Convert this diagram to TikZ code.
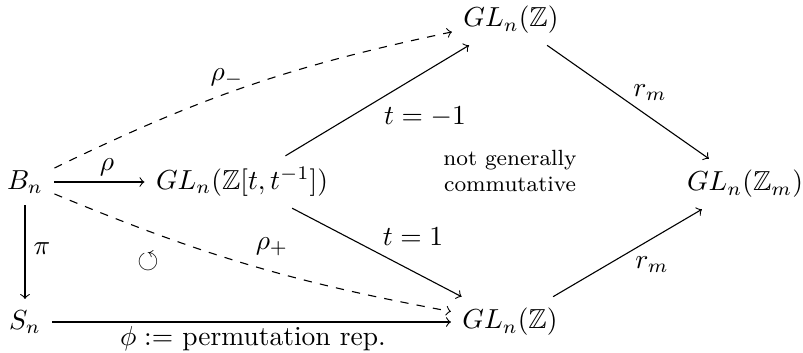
\documentclass[tikz,border=0pt]{standalone}
\usepackage{amssymb}
\begin{document}
\begin{tikzpicture}[x=0.3636pt,y=-0.3636pt,
  obj/.style={inner sep=4pt},
  lab/.style={inner sep=1pt},
  arr/.style={->},
  darr/.style={->,dashed}]
\useasboundingbox (0,0) rectangle (803,352);
% objects
\node[obj] (Bn) at (25,182) {$B_n$};
\node[obj] (L)  at (242,182) {$GL_n(\mathbb{Z}[t,t^{-1}])$};
\node[obj] (Gt) at (511,20) {$GL_n(\mathbb{Z})$};
\node[obj] (Gm) at (745,184) {$GL_n(\mathbb{Z}_m)$};
\node[obj] (Gb) at (510,322) {$GL_n(\mathbb{Z})$};
\node[obj] (Sn) at (25,322) {$S_n$};
% arrows
\draw[arr] (Bn) -- (L);
\draw[arr] (Bn) -- (Sn);
\draw[arr] (Sn) -- (Gb);
\draw[darr] (Bn) to[bend left=7] (Gt);
\draw[darr] (Bn) to[bend right=6] (Gb);
\draw[arr] (L) -- (Gt);
\draw[arr] (L) -- (Gb);
\draw[arr] (Gt) -- (Gm);
\draw[arr] (Gb) -- (Gm);
% labels
\node[lab] (lrho) at (107,167) {$\rho$};
\node[lab] (lpi) at (42,249) {$\pi$};
\node[lab] (lphi) at (253,339) {$\phi :=$ permutation rep.};
\node[lab] (lrhom) at (227,78) {$\rho_-$};
\node[lab] (lrhop) at (272,247) {$\rho_+$};
\node[lab] (ltm) at (425,117) {$t=-1$};
\node[lab] (ltp) at (413,237) {$t=1$};
\node[lab] (lrt) at (650,93) {$r_m$};
\node[lab] (lrb) at (652,265) {$r_m$};
\node[lab,font=\footnotesize,align=center] (nc) at (510,171) {not generally\\commutative};
\node[lab] (circ) at (148,262) {$\circlearrowleft$};
\end{tikzpicture}
\end{document}
